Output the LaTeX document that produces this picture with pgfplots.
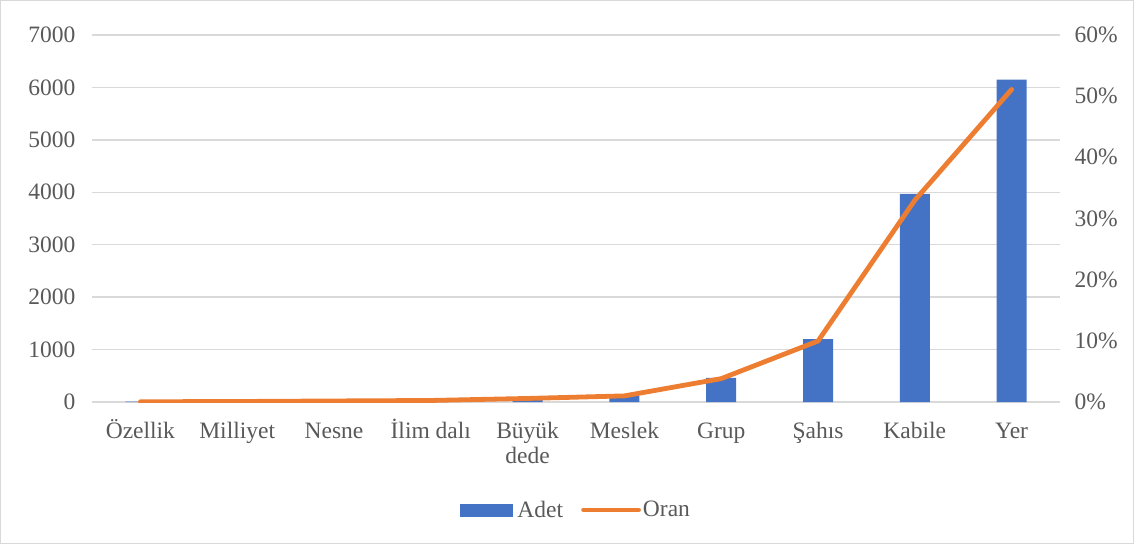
\documentclass[border=0pt]{standalone}
\usepackage{pgfplots}
\pgfplotsset{compat=1.18}
\usepackage{fontspec}
\setmainfont{Liberation Serif}
\definecolor{barblue}{HTML}{4472C4}
\definecolor{lineorange}{HTML}{ED7D31}
\definecolor{txtgray}{HTML}{595959}
\definecolor{gridgray}{HTML}{D9D9D9}
\definecolor{framegray}{HTML}{D9D9D9}
\newcommand{\st}{\rule{0pt}{22pt}}
\begin{document}
\begin{tikzpicture}[x=1pt,y=1pt]
\draw[draw=framegray, line width=1pt] (0.5,0.5) rectangle (1133.5,543.5);
\begin{axis}[
  at={(92pt,142pt)}, anchor=south west,
  width=968pt, height=367pt, scale only axis,
  xmin=-0.5, xmax=9.5, ymin=0, ymax=7000,
  ytick={0,1000,...,7000},
  ymajorgrids, grid style={line width=1.3pt, draw=gridgray},
  axis line style={draw=none}, tick style={draw=none},
  xtick={0,...,9},
  xticklabels={{\st Özellik},{\st Milliyet},{\st Nesne},{\st İlim dalı},{\st Büyük\\dede},{\st Meslek},{\st Grup},{\st Şahıs},{\st Kabile},{\st Yer}},
  x tick label style={font=\fontsize{23.5}{25}\selectfont, text=txtgray, align=center, anchor=north, yshift=-7pt},
  y tick label style={font=\fontsize{23.5}{26}\selectfont, text=txtgray, xshift=-13pt},
  /pgf/number format/assume math mode=true,
  /pgf/number format/1000 sep={},
  ybar, bar width=30pt,
]
\addplot[fill=barblue, draw=none] coordinates {
 (0,5) (1,10) (2,20) (3,30) (4,70) (5,120) (6,460) (7,1200) (8,3970) (9,6150)};
\end{axis}
\begin{axis}[
  at={(92pt,142pt)}, anchor=south west,
  width=968pt, height=367pt, scale only axis,
  xmin=-0.5, xmax=9.5, ymin=0, ymax=60,
  axis x line=none, axis y line*=right,
  axis line style={draw=none}, tick style={draw=none},
  ytick={0,10,...,60},
  yticklabel={\pgfmathprintnumber{\tick}\%},
  y tick label style={font=\fontsize{23.5}{26}\selectfont, text=txtgray, xshift=11pt},
  /pgf/number format/assume math mode=true,
  legend style={at={(0.5,-0.294)}, anchor=center, draw=none, fill=none,
    font=\fontsize{23.5}{26}\selectfont, text=txtgray, legend columns=2,
    /tikz/every even column/.append style={column sep=16pt}},
]
\addlegendimage{legend image code/.code={\fill[barblue] (0pt,-6pt) rectangle (52pt,6pt);}}
\addlegendentry{\hspace{3pt}Adet}
\addplot[lineorange, line width=4.8pt, line join=round, line cap=round,
  legend image code/.code={\draw[lineorange, line width=4.8pt, line cap=round] (0pt,0pt) -- (55pt,0pt);}]
  coordinates {(0,0.04) (1,0.08) (2,0.17) (3,0.25) (4,0.58) (5,1.0) (6,3.82) (7,9.97) (8,32.99) (9,51.1)};
\addlegendentry{Oran}
\end{axis}
\end{tikzpicture}
\end{document}
